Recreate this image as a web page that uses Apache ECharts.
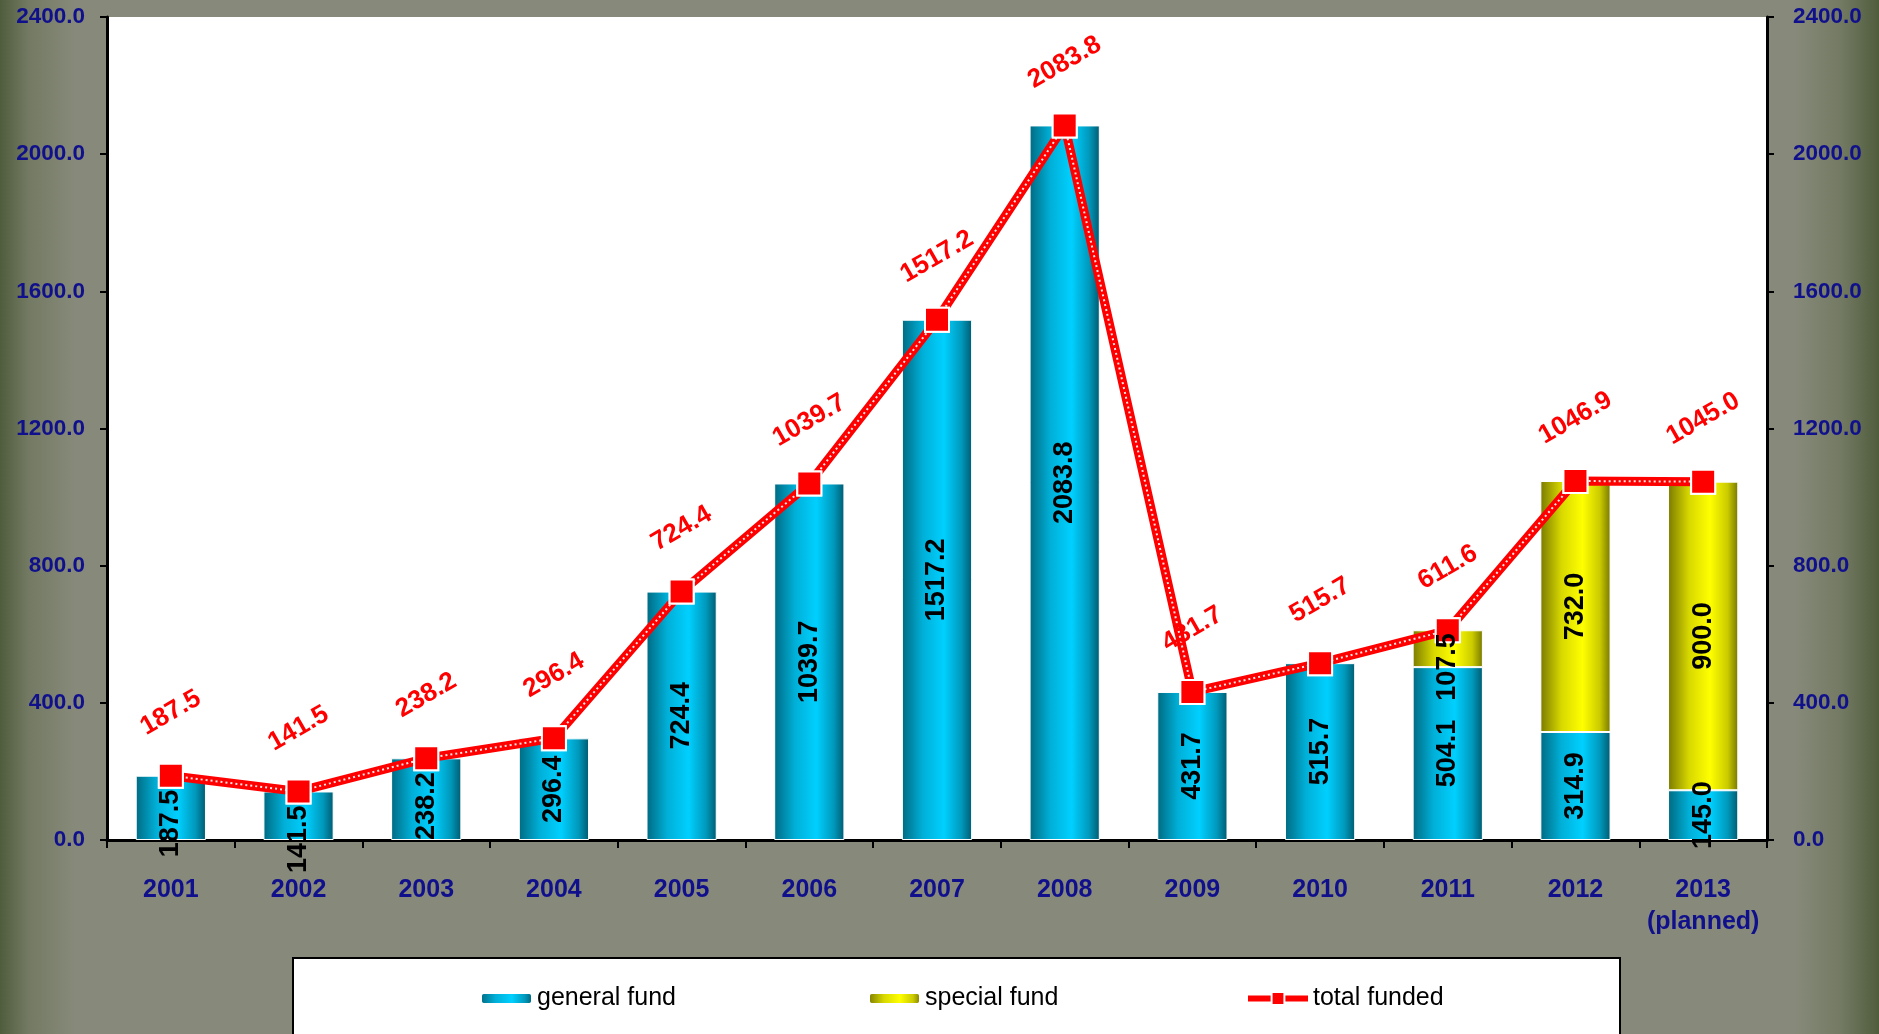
<!DOCTYPE html>
<html>
<head>
<meta charset="utf-8">
<script src="https://cdn.jsdelivr.net/npm/echarts@6/dist/echarts.min.js"></script>
<style>
  html, body { margin: 0; padding: 0; width: 1879px; height: 1034px; overflow: hidden; }
  body {
    background:
      linear-gradient(to right, rgba(70,85,50,0.85) 0%, rgba(95,105,75,0.5) 1.5%, rgba(0,0,0,0) 4%, rgba(0,0,0,0) 95.5%, rgba(95,105,75,0.5) 98%, rgba(70,85,50,0.85) 100%),
      #878a7a;
  }
  #chart { width: 1879px; height: 1034px; }
</style>
</head>
<body>
<div id="chart"></div>
<script>
const years = ['2001', '2002', '2003', '2004', '2005', '2006', '2007', '2008', '2009', '2010', '2011', '2012', '2013\n(planned)'];
const generalFund = [187.5, 141.5, 238.2, 296.4, 724.4, 1039.7, 1517.2, 2083.8, 431.7, 515.7, 504.1, 314.9, 145.0];
const specialFund = [null, null, null, null, null, null, null, null, null, null, 107.5, 732.0, 900.0];
const totalFunded = [187.5, 141.5, 238.2, 296.4, 724.4, 1039.7, 1517.2, 2083.8, 431.7, 515.7, 611.6, 1046.9, 1045.0];
const yMin = 0, yMax = 2400, yStep = 400;

const FONT = '"Liberation Sans", Arial, sans-serif';
const axisBlue = '#10108c';

const cyanGrad = new echarts.graphic.LinearGradient(0, 0, 1, 0, [
  { offset: 0, color: '#006a82' },
  { offset: 0.3, color: '#00b0d8' },
  { offset: 0.6, color: '#00d0ff' },
  { offset: 0.85, color: '#0098bb' },
  { offset: 1, color: '#005a70' }
]);
const yellowGrad = new echarts.graphic.LinearGradient(0, 0, 1, 0, [
  { offset: 0, color: '#7a7a00' },
  { offset: 0.3, color: '#d8d800' },
  { offset: 0.6, color: '#ffff00' },
  { offset: 0.85, color: '#caca00' },
  { offset: 1, color: '#767600' }
]);

const fmt1 = v => Number(v).toFixed(1);

const yAxisCommon = {
  type: 'value', min: yMin, max: yMax, interval: yStep,
  splitLine: { show: false },
  axisLine: { show: true, lineStyle: { color: '#000', width: 3 } },
  axisTick: { show: true, length: 7, lineStyle: { color: '#000', width: 2 } },
  axisLabel: { formatter: fmt1, color: axisBlue, fontFamily: FONT, fontWeight: 'bold', fontSize: 22.5 }
};

const barLabel = {
  show: true, position: ['50%', '50%'], rotate: 90, align: 'center', verticalAlign: 'middle', overflow: 'none',
  color: '#000', fontFamily: FONT, fontWeight: 'bold', fontSize: 27
};

// keep a bar label clear of the line marker sitting on top of its bar
// (label is rotated 90deg, so its local x axis points up on screen)
function clearOfMarker(margin, markerOnTop) {
  return function (p) {
    if (!markerOnTop(p.dataIndex)) return {};
    const top = Math.min(p.rect.y, p.rect.y + p.rect.height);
    const need = top + margin - p.labelRect.y;
    return need > 0 ? { dx: -need } : {};
  };
}

const chart = echarts.init(document.getElementById('chart'), null, { renderer: 'canvas' });
chart.setOption({
  backgroundColor: 'transparent',
  animation: false,
  grid: { left: 107, right: 112, top: 17, bottom: 1034 - 840, show: true, backgroundColor: '#ffffff', borderWidth: 0, containLabel: false },
  graphic: [{
    type: 'rect', left: 292, top: 957, z: -1,
    shape: { width: 1327, height: 100 },
    style: { fill: '#ffffff', stroke: '#000000', lineWidth: 2 }
  }],
  legend: [
    { data: ['general fund'], left: 480, top: 986, padding: 0, itemWidth: 51, itemHeight: 11,
      textStyle: { fontFamily: FONT, fontSize: 25, color: '#000' } },
    { data: ['special fund'], left: 868, top: 986, padding: 0, itemWidth: 51, itemHeight: 11,
      textStyle: { fontFamily: FONT, fontSize: 25, color: '#000' } },
    { data: ['total funded'], left: 1245, top: 986, padding: 0, itemWidth: 60, itemHeight: 16,
      lineStyle: { width: 6 },
      textStyle: { fontFamily: FONT, fontSize: 25, color: '#000' } }
  ],
  xAxis: {
    type: 'category', data: years, boundaryGap: true,
    axisLine: { show: true, lineStyle: { color: '#000', width: 3 } },
    axisTick: { show: true, length: 8, alignWithLabel: false, lineStyle: { color: '#000', width: 2 } },
    axisLabel: { color: axisBlue, fontFamily: FONT, fontWeight: 'bold', fontSize: 25, margin: 34, lineHeight: 32, interval: 0 }
  },
  yAxis: [
    Object.assign({}, yAxisCommon, { position: 'left', axisLabel: Object.assign({}, yAxisCommon.axisLabel, { margin: 22 }) }),
    Object.assign({}, yAxisCommon, { position: 'right', axisLabel: Object.assign({}, yAxisCommon.axisLabel, { margin: 26 }) })
  ],
  series: [
    {
      name: 'general fund', type: 'bar', stack: 'fund', data: generalFund, barWidth: '55%',
      itemStyle: { color: cyanGrad, borderColor: '#ffffff', borderWidth: 1 }
    },
    {
      name: 'special fund', type: 'bar', stack: 'fund', data: specialFund, barWidth: '55%',
      itemStyle: { color: yellowGrad, borderColor: '#ffffff', borderWidth: 1 }
    },
    {
      name: 'total funded', type: 'line', data: totalFunded, z: 3,
      symbol: 'rect', symbolSize: 24,
      lineStyle: { color: '#ff0000', width: 9 },
      itemStyle: { color: '#ff0000', borderColor: '#ffffff', borderWidth: 2 }
    },
    {
      name: 'total funded dots', type: 'line', data: totalFunded, z: 4, silent: true,
      symbol: 'none',
      lineStyle: { color: 'rgba(255,255,255,0.9)', width: 2, type: [2, 3] }
    },
    {
      name: 'total funded markers', type: 'line', data: totalFunded, z: 5, silent: true,
      symbol: 'rect', symbolSize: 24,
      lineStyle: { width: 0, opacity: 0 },
      itemStyle: { color: '#ff0000', borderColor: '#ffffff', borderWidth: 2 },
      label: { show: true, position: 'top', distance: 50, rotate: 30, align: 'center', verticalAlign: 'middle',
        formatter: p => fmt1(p.value), color: '#ff0000', fontFamily: FONT, fontWeight: 'bold', fontSize: 26 }
    },
    {
      name: 'general fund labels', type: 'bar', stack: 'labels', data: generalFund, barWidth: '55%', barGap: '-100%',
      z: 6, silent: true, itemStyle: { color: 'rgba(0,0,0,0)' },
      label: Object.assign({}, barLabel, { formatter: p => fmt1(p.value) }),
      labelLayout: clearOfMarker(14, i => specialFund[i] == null)
    },
    {
      name: 'special fund labels', type: 'bar', stack: 'labels', data: specialFund, barWidth: '55%', barGap: '-100%',
      z: 6, silent: true, itemStyle: { color: 'rgba(0,0,0,0)' },
      label: Object.assign({}, barLabel, { formatter: p => p.value == null ? '' : fmt1(p.value) }),
      labelLayout: clearOfMarker(3, i => specialFund[i] != null)
    }
  ]
});
</script>
</body>
</html>
